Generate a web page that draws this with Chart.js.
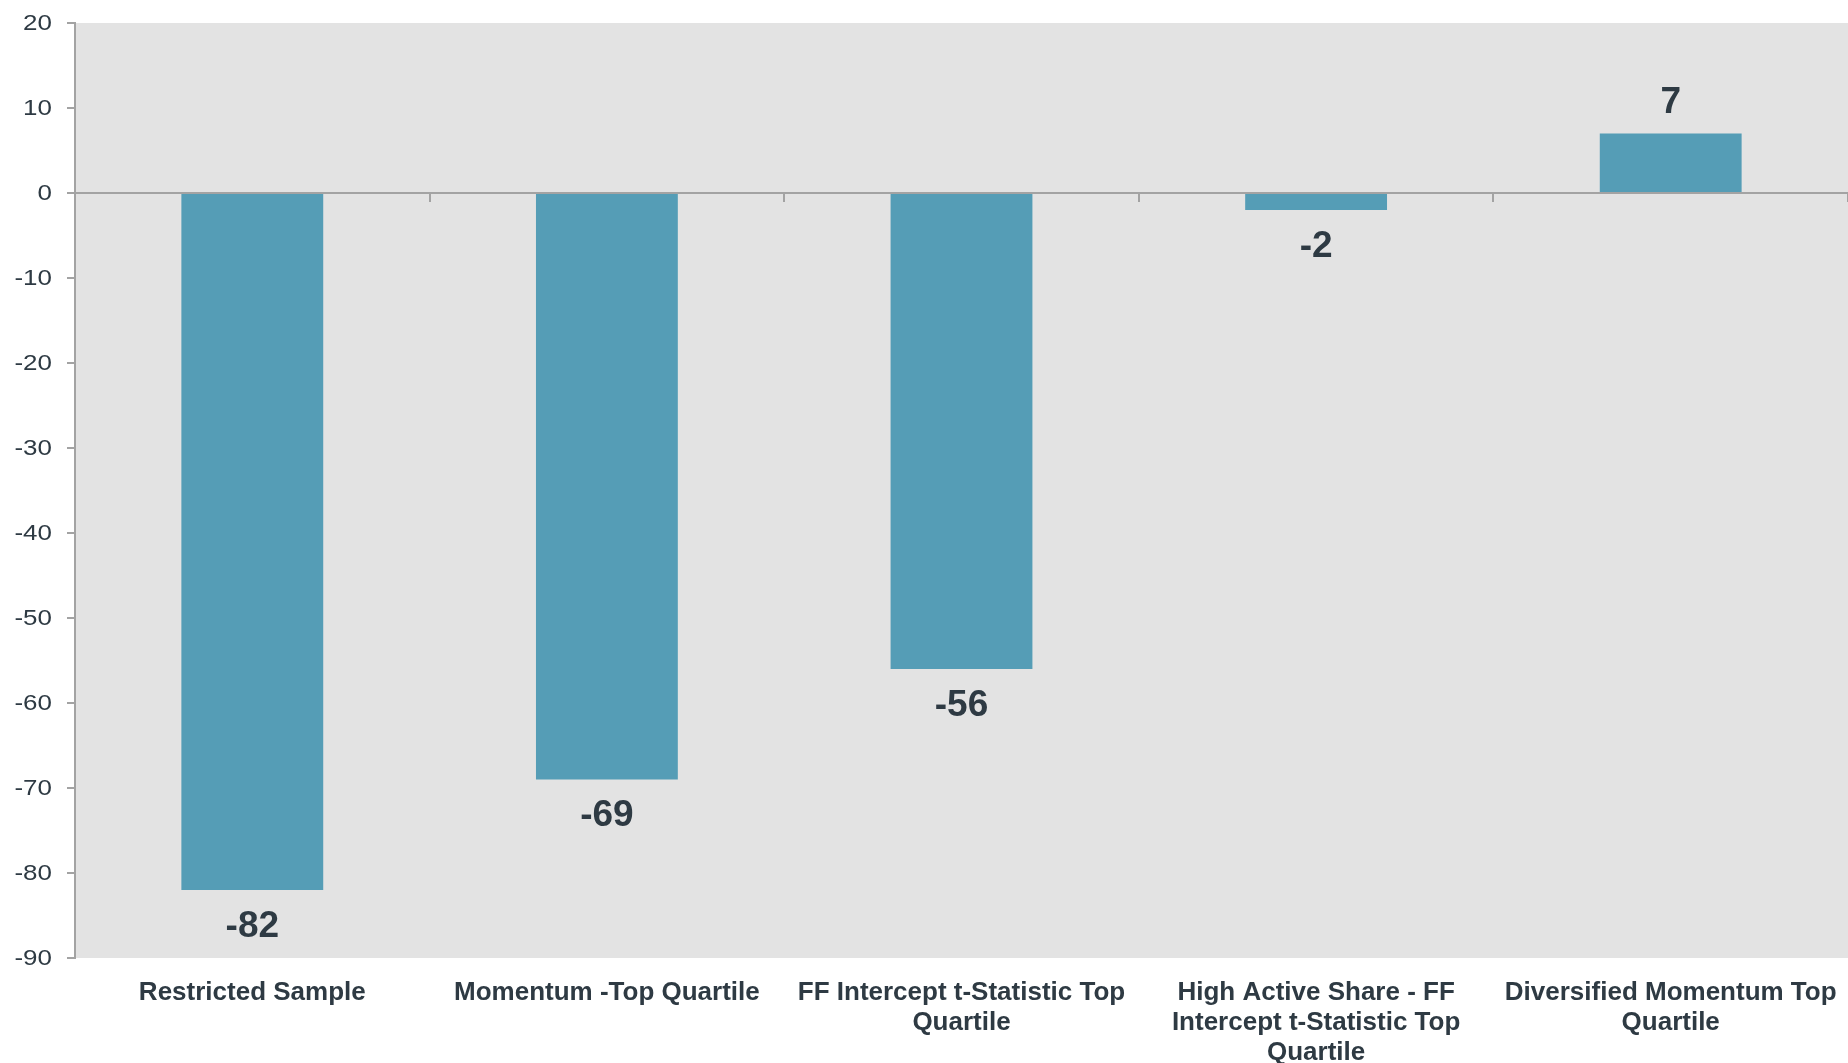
<!DOCTYPE html>
<html>
<head>
<meta charset="utf-8">
<script src="https://cdn.jsdelivr.net/npm/chart.js@4.4.1/dist/chart.umd.min.js"></script>
<style>
  html, body { margin: 0; padding: 0; background: #ffffff; }
  #wrap { width: 1848px; height: 1063px; position: relative; }
</style>
</head>
<body>
<div id="wrap"><canvas id="chart"></canvas></div>
<script>
// Category labels (multi-line where wrapped)
const categories = [
  ['Restricted Sample'],
  ['Momentum -Top Quartile'],
  ['FF Intercept t-Statistic Top', 'Quartile'],
  ['High Active Share - FF', 'Intercept t-Statistic Top', 'Quartile'],
  ['Diversified Momentum Top', 'Quartile']
];
// Bar values
const values = [-82, -69, -56, -2, 7];
// Y axis range and step
const yMin = -90;
const yMax = 20;
const yStep = 10;

const TEXT = '#2e3a43';
const AXIS = '#a3a3a3';
const SANS = "'Liberation Sans', Arial, sans-serif";

// Text drawn with an optional horizontal stretch factor
function drawText(ctx, text, x, y, sx, align) {
  ctx.save();
  ctx.translate(x, y);
  ctx.scale(sx, 1);
  ctx.textAlign = align;
  ctx.fillText(text, 0, 0);
  ctx.restore();
}

// Paints the plot-area background
const plotBackground = {
  id: 'plotBackground',
  beforeDraw(chart) {
    const { ctx, chartArea: a } = chart;
    ctx.save();
    ctx.fillStyle = '#e3e3e3';
    ctx.fillRect(a.left, a.top, a.right - a.left, a.bottom - a.top);
    ctx.restore();
  }
};

// Axis labels: y values on the left, category names under the plot
const axisText = {
  id: 'axisText',
  afterDraw(chart) {
    const { ctx } = chart;
    const ys = chart.scales.y;
    const xs = chart.scales.x;
    ctx.save();
    ctx.fillStyle = TEXT;
    ctx.textBaseline = 'middle';
    ctx.font = '22px ' + SANS;
    ys.ticks.forEach(t => {
      const py = ys.getPixelForValue(t.value);
      drawText(ctx, String(t.value), ys.left + 52, py + 1, 1.18, 'right');
    });
    ctx.font = 'bold 26px ' + SANS;
    ctx.textBaseline = 'alphabetic';
    chart.data.labels.forEach((lines, i) => {
      const px = xs.getPixelForTick(i);
      lines.forEach((line, j) => {
        drawText(ctx, line, px, chart.chartArea.bottom + 41.5 + j * 30, 1, 'center');
      });
    });
    ctx.restore();
  }
};

// Writes each bar's value just beyond its end
const valueLabels = {
  id: 'valueLabels',
  afterDatasetsDraw(chart) {
    const { ctx } = chart;
    const meta = chart.getDatasetMeta(0);
    const data = chart.data.datasets[0].data;
    ctx.save();
    ctx.font = 'bold 37px ' + SANS;
    ctx.fillStyle = TEXT;
    ctx.textBaseline = 'alphabetic';
    meta.data.forEach((bar, i) => {
      const v = data[i];
      const y = v >= 0 ? bar.y - 20.5 : bar.y + 46.5;
      drawText(ctx, String(v), bar.x, y, 1, 'center');
    });
    ctx.restore();
  }
};

new Chart(document.getElementById('chart'), {
  type: 'bar',
  data: {
    labels: categories,
    datasets: [{
      data: values,
      backgroundColor: '#559db6',
      borderWidth: 0,
      barPercentage: 0.4,
      categoryPercentage: 1.0,
      xAxisID: 'x'
    }]
  },
  options: {
    responsive: true,
    maintainAspectRatio: false,
    animation: false,
    layout: { padding: { top: 23, right: 0, left: 0, bottom: 0 } },
    plugins: { legend: { display: false }, tooltip: { enabled: false } },
    scales: {
      x: {
        type: 'category',
        position: 'bottom',
        grid: { display: false },
        border: { display: false },
        ticks: { display: false },
        afterFit(scale) {
          scale.height = 105;
          scale.paddingLeft = 0;
          scale.paddingRight = 0;
        }
      },
      xZero: {
        type: 'category',
        labels: categories,
        position: { y: 0 },
        offset: true,
        grid: {
          offset: true,
          drawOnChartArea: false,
          drawTicks: true,
          tickLength: 8,
          color: AXIS,
          lineWidth: 2
        },
        border: { display: true, color: AXIS, width: 2 },
        ticks: { display: false }
      },
      y: {
        min: yMin,
        max: yMax,
        grid: {
          drawOnChartArea: false,
          drawTicks: true,
          tickLength: 8,
          color: AXIS,
          lineWidth: 2
        },
        border: { display: true, color: AXIS, width: 2 },
        ticks: { stepSize: yStep, display: false },
        afterFit(scale) {
          scale.width = 75;
          scale.paddingTop = 0;
          scale.paddingBottom = 0;
        }
      }
    }
  },
  plugins: [plotBackground, valueLabels, axisText]
});
</script>
</body>
</html>
